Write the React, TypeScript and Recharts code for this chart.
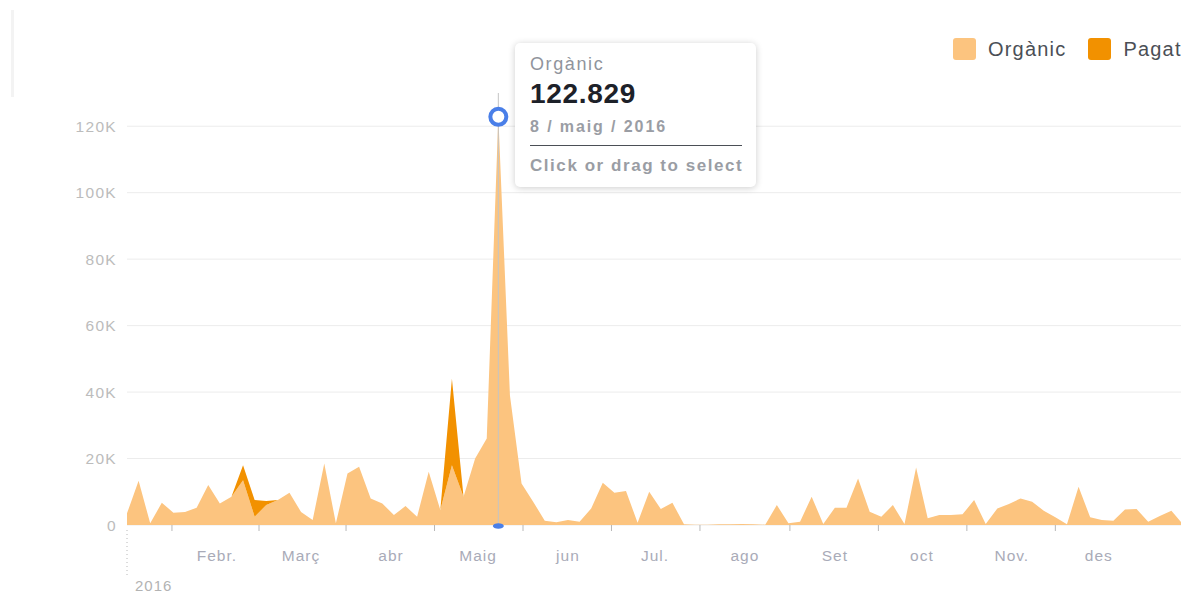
import React from 'react';
import { AreaChart, Area, XAxis, YAxis, CartesianGrid, Tooltip, Legend } from 'recharts';

// ---- data ----
const START_UTC = Date.UTC(2016, 0, 1);
const STEP_DAYS = 4;

const organic = [
  3500, 13300, 500, 6700, 3700, 3900, 5200, 12000, 6500, 8500,
  13500, 2500, 6000, 7500, 9700, 3900, 1500, 18500, 500, 15500,
  17500, 8000, 6500, 3000, 5700, 2500, 16000, 4500, 18000, 8500,
  20000, 26000, 122829, 39000, 12500, 7000, 1300, 800, 1500, 1000,
  5000, 12700, 9700, 10200, 700, 10000, 4800, 6700, 200, 100,
  100, 200, 200, 300, 200, 100, 6000, 500, 1000, 8500,
  300, 5200, 5200, 14000, 4000, 2500, 6000, 300, 17300, 2000,
  3000, 3000, 3200, 7500, 300, 5000, 6300, 8000, 7000, 4300,
  2300, 200, 11500, 2300, 1500, 1300, 4700, 4800, 1000, 2700,
  4300, 200,
];

const paid = [
  0, 0, 0, 0, 0, 0, 0, 0, 0, 0,
  4500, 5000, 1200, 0, 0, 0, 0, 0, 0, 0,
  0, 0, 0, 0, 0, 0, 0, 0, 26000, 0,
  0, 0, 0, 0, 0, 0, 0, 0, 0, 0,
  0, 0, 0, 0, 0, 0, 0, 0, 0, 0,
  0, 0, 0, 0, 0, 0, 0, 0, 0, 0,
  0, 0, 0, 0, 0, 0, 0, 0, 0, 0,
  0, 0, 0, 0, 0, 0, 0, 0, 0, 0,
  0, 0, 0, 0, 0, 0, 0, 0, 0, 0,
  0, 0,
];

const yTicks = [0, 20000, 40000, 60000, 80000, 100000, 120000];
const monthLabelDays = [31, 60, 91, 121, 152, 182, 213, 244, 274, 305, 335];
const monthLabels = ['Febr.', 'Març', 'abr', 'Maig', 'jun', 'Jul.', 'ago', 'Set', 'oct', 'Nov.', 'des'];
const monthTickDays = [15.5, 45.5, 75.5, 106, 136.5, 167, 197.5, 228.5, 259, 289.5, 320];
const catalanMonths = ['gen', 'febr', 'març', 'abr', 'maig', 'juny', 'jul', 'ag', 'set', 'oct', 'nov', 'des'];
const yearLabel = '2016';
const highlightIndex = 32;
const seriesNames = { organic: 'Orgànic', paid: 'Pagat' };
const colors = { organic: '#fcc47f', paid: '#f29100' };

const data = organic.map((o, i) => ({ day: i * STEP_DAYS, organic: o, paid: paid[i] }));

const FONT = '"Liberation Sans", Arial, Helvetica, sans-serif';

const fmtThousands = (v: number) => String(v).replace(/\B(?=(\d{3})+(?!\d))/g, '.');
const fmtDate = (day: number) => {
  const d = new Date(START_UTC + day * 86400000);
  return `${d.getUTCDate()} / ${catalanMonths[d.getUTCMonth()]} / ${d.getUTCFullYear()}`;
};
const fmtK = (v: number) => (v === 0 ? '0' : `${v / 1000}K`);

const TipContent = (props: any) => {
  const { active, payload } = props;
  if (!active || !payload || !payload.length) return null;
  const p = payload.find((e: any) => e.dataKey === 'organic') || payload[0];
  const grey = '#90949c';
  return (
    <div
      style={{
        position: 'relative',
        width: 241,
        height: 144,
        boxSizing: 'border-box',
        background: '#fff',
        borderRadius: 5,
        boxShadow: '0 1px 7px rgba(0,0,0,0.2)',
        fontFamily: FONT,
      }}
    >
      <div style={{ position: 'absolute', left: 15, top: 11, fontSize: 18, lineHeight: '20px', color: grey, letterSpacing: 1.6 }}>
        {seriesNames.organic}
      </div>
      <div style={{ position: 'absolute', left: 15, top: 35, fontSize: 28, lineHeight: '32px', fontWeight: 700, color: '#1d2129', letterSpacing: 0.7 }}>
        {fmtThousands(p.value)}
      </div>
      <div style={{ position: 'absolute', left: 15, top: 74, fontSize: 16, lineHeight: '20px', fontWeight: 700, color: '#9a9da4', letterSpacing: 1.9 }}>
        {fmtDate(p.payload.day)}
      </div>
      <div style={{ position: 'absolute', left: 15, right: 14, top: 102, height: 0, borderTop: '1.5px solid #4b4f56' }} />
      <div style={{ position: 'absolute', left: 15, top: 113, fontSize: 17, lineHeight: '20px', fontWeight: 700, color: '#9a9da4', letterSpacing: 1.55 }}>
        Click or drag to select
      </div>
    </div>
  );
};

const Cursor = (props: any) => {
  const { points } = props;
  if (!points || points.length < 2) return null;
  const x = points[0].x;
  return (
    <g>
      <line x1={x} y1={points[0].y} x2={x} y2={points[1].y} stroke="#c4c4c4" strokeWidth={1} />
      <ellipse cx={x} cy={points[1].y + 1} rx={5.5} ry={2.8} fill="#4a7fe8" />
    </g>
  );
};

const LegendContent = (props: any) => {
  const { payload } = props;
  return (
    <div style={{ display: 'flex', alignItems: 'center', height: 22, fontFamily: FONT }}>
      {(payload || []).map((e: any, i: number) => (
        <div key={i} style={{ display: 'flex', alignItems: 'center', marginLeft: i === 0 ? 0 : 22 }}>
          <div style={{ width: 23, height: 22, borderRadius: 3, background: e.color }} />
          <span style={{ marginLeft: 12, fontSize: 20, color: '#4b4f56', letterSpacing: 1.2, lineHeight: '22px', whiteSpace: 'nowrap' }}>
            {e.value}
          </span>
        </div>
      ))}
    </div>
  );
};

const YearTick = (props: any) => {
  const { x, y } = props;
  return (
    <g>
      <line x1={x} y1={y - 41} x2={x} y2={y + 6} stroke="#b8b8b8" strokeWidth={1} strokeDasharray="1 3" />
      <text x={x + 8} y={y + 14} dominantBaseline="central" fill="#b3b3b3" fontSize={15} fontFamily={FONT} letterSpacing={1}>
        {yearLabel}
      </text>
    </g>
  );
};

export default function App() {
  return (
    <div style={{ position: 'relative', width: 1181, height: 589, fontFamily: FONT }}>
      <div style={{ position: 'absolute', left: 3, top: 2, width: 3, height: 87, background: '#f3f3f3' }} />
      <AreaChart width={1181} height={589} data={data} margin={{ top: 63, right: 6, left: 0, bottom: 0 }}>
        <CartesianGrid vertical={false} stroke="#ececec" horizontalValues={yTicks} />
        <XAxis
          dataKey="day"
          type="number"
          domain={[0, 364]}
          ticks={monthTickDays}
          interval={0}
          tickFormatter={() => ''}
          axisLine={false}
          tickLine={{ stroke: '#b8b8b8' }}
          tickSize={6}
          height={16}
        />
        <XAxis
          xAxisId="labels"
          dataKey="day"
          type="number"
          domain={[0, 364]}
          ticks={monthLabelDays}
          interval={0}
          tickFormatter={(v: number) => monthLabels[monthLabelDays.indexOf(v)]}
          axisLine={false}
          tickLine={false}
          tickSize={0}
          tickMargin={9}
          height={30}
          tick={{ fill: '#a9abb8', fontSize: 15.5, fontFamily: FONT, letterSpacing: 1 }}
        />
        <XAxis
          xAxisId="year"
          dataKey="day"
          type="number"
          domain={[0, 364]}
          ticks={[0]}
          interval={0}
          axisLine={false}
          tickLine={false}
          tickSize={0}
          tickMargin={0}
          height={26}
          tick={<YearTick />}
        />
        <YAxis
          width={119}
          domain={[0, 130000]}
          ticks={yTicks}
          interval={0}
          tickFormatter={fmtK}
          axisLine={false}
          tickLine={false}
          tickSize={0}
          tickMargin={10}
          tick={{ fill: '#bcbcbc', fontSize: 15.5, fontFamily: FONT, letterSpacing: 1.3 }}
        />
        <Legend
          verticalAlign="top"
          align="right"
          content={<LegendContent />}
          wrapperStyle={{ top: 30, left: 945, right: 'auto', width: 236 }}
        />
        <Tooltip
          defaultIndex={highlightIndex}
          active={true}
          position={{ x: 507, y: 35 }}
          cursor={<Cursor />}
          content={<TipContent />}
          isAnimationActive={false}
          wrapperStyle={{ zIndex: 10, outline: 'none' }}
        />
        <Area
          type="linear"
          dataKey="organic"
          name={seriesNames.organic}
          stackId="1"
          fill={colors.organic}
          fillOpacity={1}
          stroke="none"
          isAnimationActive={false}
          activeDot={{ r: 8, fill: '#fff', stroke: '#4a7fe8', strokeWidth: 4 }}
        />
        <Area
          type="linear"
          dataKey="paid"
          name={seriesNames.paid}
          stackId="1"
          fill={colors.paid}
          fillOpacity={1}
          stroke="none"
          isAnimationActive={false}
          activeDot={false}
        />
      </AreaChart>
    </div>
  );
}
